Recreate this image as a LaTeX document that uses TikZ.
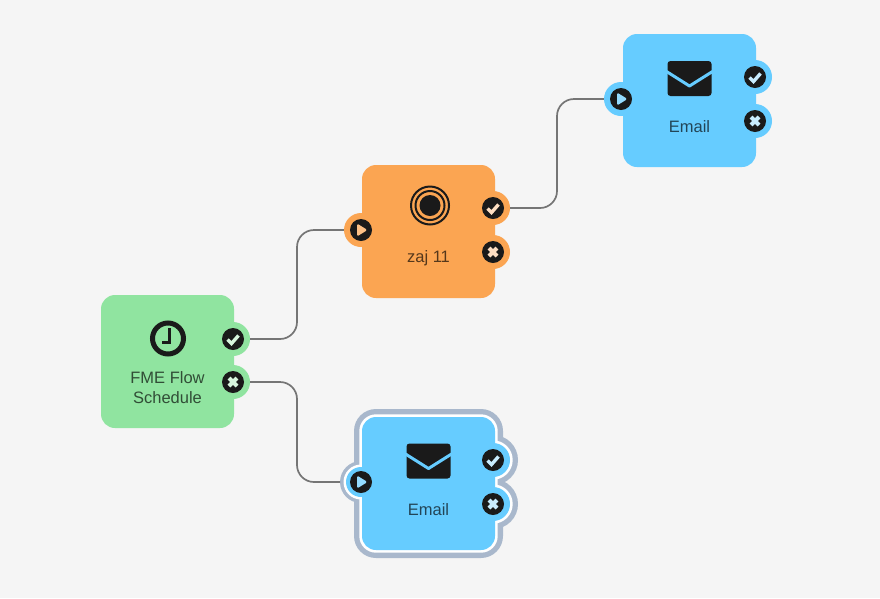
\documentclass[tikz,border=0pt]{standalone}
\usepackage{fontspec}
\setmainfont{Liberation Sans}
\definecolor{pagebg}{HTML}{F5F5F5}
\definecolor{schedgreen}{HTML}{90E4A0}
\definecolor{zajorange}{HTML}{FBA552}
\definecolor{mailblue}{HTML}{66CCFF}
\definecolor{selgray}{HTML}{A9B8CC}
\definecolor{icondark}{HTML}{1A1A1A}
\definecolor{linkgray}{HTML}{757575}
\tikzset{
box/.style={rectangle, rounded corners=14pt, minimum width=133pt, minimum height=133pt, inner sep=0pt},
port/.style={circle, minimum size=34pt, inner sep=0pt},
caption/.style={font=\fontsize{16.5}{20}\selectfont, align=center, text=black, text opacity=.66},
link/.style={draw=linkgray, line width=1.7pt, rounded corners=17pt},
pics/okmark/.style={code={
    \fill[icondark] (0,0) circle (11pt);
    \draw[#1!35!white, line width=3.4pt] (-5.5,0.5) -- (-1.5,4.5) -- (5.5,-3.5);
}},
pics/failmark/.style={code={
    \fill[icondark] (0,0) circle (11pt);
    \draw[#1!35!white, line width=4.2pt] (-4,-4) -- (4,4) (-4,4) -- (4,-4);
}},
pics/runmark/.style={code={
    \fill[icondark] (0,0) circle (11pt);
    \fill[#1!70!white, rounded corners=1.5pt] (-4,-6.5) -- (6.5,0) -- (-4,6.5) -- cycle;
}},
mailmark/.pic={
    \fill[icondark, rounded corners=3pt] (-22,-17.5) rectangle (22,17.5);
    \draw[mailblue, line width=3pt, line join=round] (-23,-7) -- (0,7.5) -- (23,-7);
},
}

\begin{document}
\begin{tikzpicture}[x=1pt, y=-1pt]
    \useasboundingbox (0,0) rectangle (880,598);
    \fill[pagebg] (0,0) rectangle (880,598);

    % selection ring of the lower mail box
    \foreach \ringcol/\ringgrow/\ringin in {selgray/8/21, white/2.7/17.5} {
        \fill[\ringcol, rounded corners=14pt+\ringgrow] (362-\ringgrow,417-\ringgrow) rectangle (495+\ringgrow,550+\ringgrow);
        \fill[\ringcol] (361,482) circle (\ringin) (493,460) circle ({17+\ringgrow}) (493,504) circle ({17+\ringgrow});
    }

    \node[box, fill=schedgreen] (sched) at (167.5,361.5) {};
    \node[port, fill=schedgreen] (schedok) at (233,339) {};
    \node[port, fill=schedgreen] (schedfail) at (233,382) {};
    \node[caption] (schedtext) at (167.5,388) {FME Flow\\Schedule};

    \node[box, fill=zajorange] (zaj) at (428.5,231.5) {};
    \node[port, fill=zajorange] (zajin) at (361,230) {};
    \node[port, fill=zajorange] (zajok) at (493,208) {};
    \node[port, fill=zajorange] (zajfail) at (493,252) {};
    \node[caption] (zajtext) at (428.5,258) {zaj 11};

    \node[box, fill=mailblue] (mailtop) at (689.5,100.5) {};
    \node[port, fill=mailblue] (mailtopin) at (621,99) {};
    \node[port, fill=mailblue] (mailtopok) at (755,77) {};
    \node[port, fill=mailblue] (mailtopfail) at (755,121) {};
    \node[caption] (mailtoptext) at (689.5,127) {Email};

    \node[box, fill=mailblue] (mailsel) at (428.5,483.5) {};
    \node[port, fill=mailblue, minimum size=30pt, outer sep=6pt] (mailselin) at (361,482) {};
    \node[port, fill=mailblue] (mailselok) at (493,460) {};
    \node[port, fill=mailblue] (mailselfail) at (493,504) {};
    \node[caption] (mailseltext) at (428.5,510) {Email};

    \pic at (schedok) {okmark=schedgreen};
    \pic at (schedfail) {failmark=schedgreen};
    \pic at (zajin) {runmark=zajorange};
    \pic at (zajok) {okmark=zajorange};
    \pic at (zajfail) {failmark=zajorange};
    \pic at (mailtopin) {runmark=mailblue};
    \pic at (mailtopok) {okmark=mailblue};
    \pic at (mailtopfail) {failmark=mailblue};
    \pic at (mailselin) {runmark=mailblue};
    \pic at (mailselok) {okmark=mailblue};
    \pic at (mailselfail) {failmark=mailblue};
    \pic at (689.5,78.5) {mailmark};
    \pic at (428.5,461) {mailmark};

    % clock
    \draw[icondark, line width=5pt] (168,338.5) circle (15.5pt);
    \draw[icondark, line width=3pt] (169.5,328) -- (169.5,342) -- (162,342);
    % target
    \fill[icondark] (430,205.5) circle (10.5pt);
    \draw[icondark, line width=2pt] (430,205.5) circle (14.5pt) (430,205.5) circle (19pt);

    \coordinate (benda) at (297,285);
    \coordinate (bendb) at (297,430);
    \coordinate (bendc) at (557,155);
    \draw[link] (schedok) -| (benda) |- (zajin);
    \draw[link] (schedfail) -| (bendb) |- (mailselin);
    \draw[link] (zajok) -| (bendc) |- (mailtopin);
\end{tikzpicture}
\end{document}
